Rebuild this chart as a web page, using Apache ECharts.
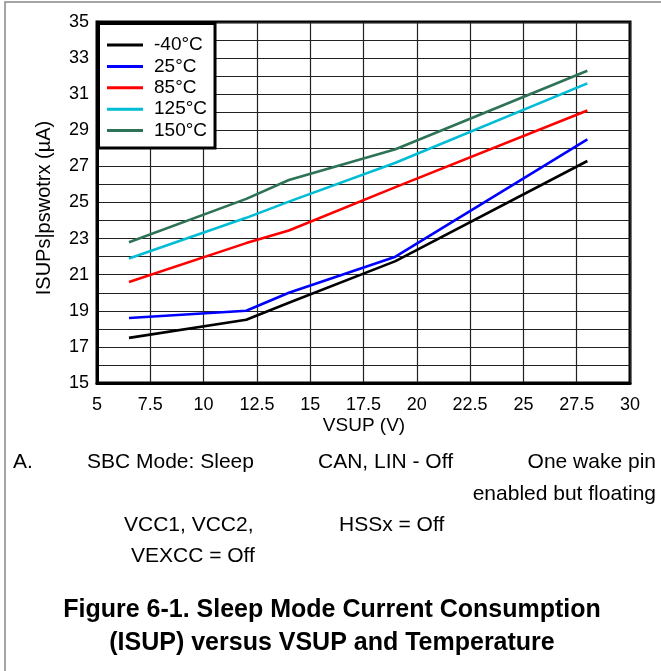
<!DOCTYPE html>
<html>
<head>
<meta charset="utf-8">
<script src="https://cdn.jsdelivr.net/npm/echarts@6/dist/echarts.min.js"></script>
<style>html,body{margin:0;padding:0;background:#fff}#c{width:661px;height:671px}</style>
</head>
<body>
<div id="c"></div>
<script>
var vsup = [6.5, 12, 14, 19, 28];
var seriesNames = ['-40\u00B0C', '25\u00B0C', '85\u00B0C', '125\u00B0C', '150\u00B0C'];
var isupM40 = [17.5, 18.5, 19.45, 21.75, 27.3];
var isup25 = [18.6, 19.0, 20.0, 22.0, 28.5];
var isup85 = [20.6, 22.75, 23.45, 25.85, 30.1];
var isup125 = [21.9, 24.15, 25.05, 27.2, 31.6];
var isup150 = [22.8, 25.2, 26.25, 27.95, 32.3];
var seriesColors = ['#000000', '#0000ff', '#ff0000', '#00bcd4', '#2e7356'];
var xTicks = [5, 7.5, 10, 12.5, 15, 17.5, 20, 22.5, 25, 27.5, 30];
var yTicks = [15, 17, 19, 21, 23, 25, 27, 29, 31, 33, 35];

var allData = [isupM40, isup25, isup85, isup125, isup150];
var font = 'Liberation Sans, Arial, sans-serif';

function pairs(arr) { return vsup.map(function (v, i) { return [v, arr[i]]; }); }

function note(text, x, y, align) {
  return { type: 'text', x: x, y: y, style: { text: text, font: '21px ' + font, fill: '#000', textAlign: align || 'left', textVerticalAlign: 'middle' } };
}

var chart = echarts.init(document.getElementById('c'), null, { renderer: 'canvas' });
chart.setOption({
  animation: false,
  backgroundColor: '#fff',
  grid: { left: 97, right: 31, top: 22, bottom: 288, show: true, borderColor: '#000', borderWidth: 3, containLabel: false },
  xAxis: {
    type: 'value', min: 5, max: 30, interval: 2.5,
    axisLine: { show: true, lineStyle: { color: '#000', width: 3 } },
    axisTick: { show: false },
    splitLine: { show: true, lineStyle: { color: '#222', width: 1.2 } },
    axisLabel: { color: '#000', fontSize: 18, fontFamily: font, margin: 13,
      formatter: function (v) { return xTicks.indexOf(v) >= 0 ? String(v) : ''; } }
  },
  yAxis: {
    type: 'value', min: 15, max: 35, interval: 1,
    axisLine: { show: true, lineStyle: { color: '#000', width: 3 } },
    axisTick: { show: false },
    splitLine: { show: true, lineStyle: { color: '#222', width: 1.2 } },
    axisLabel: { color: '#000', fontSize: 18, fontFamily: font, margin: 8,
      formatter: function (v) { return yTicks.indexOf(v) >= 0 ? String(v) : ''; } }
  },
  legend: {
    orient: 'vertical', left: 98.5, top: 23.5,
    data: seriesNames,
    icon: 'rect',
    backgroundColor: '#fff', borderColor: '#000', borderWidth: 3,
    padding: [12, 8, 8, 8.5],
    itemWidth: 36, itemHeight: 3, itemGap: 2.4,
    textStyle: { color: '#000', fontSize: 19, fontFamily: font, lineHeight: 19, padding: [0, 0, 0, 6] },
    z: 10
  },
  series: allData.map(function (d, i) {
    return {
      name: seriesNames[i], type: 'line', data: pairs(d),
      symbol: 'none', showSymbol: false,
      lineStyle: { color: seriesColors[i], width: 2.6 },
      itemStyle: { color: seriesColors[i] },
      z: 5
    };
  }),
  graphic: [
    { type: 'rect', shape: { x: 5, y: 2, width: 700, height: 700 }, style: { fill: 'none', stroke: '#888', lineWidth: 1.5 }, z: -1, silent: true },
    { type: 'text', x: 44, y: 208, rotation: Math.PI / 2, style: { text: 'ISUPs|pswotrx (\u00B5A)', font: '20px ' + font, fill: '#000', textAlign: 'center', textVerticalAlign: 'middle' } },
    { type: 'text', x: 364, y: 426, style: { text: 'VSUP (V)', font: '19px ' + font, fill: '#000', textAlign: 'center', textVerticalAlign: 'middle' } },
    note('A.', 13, 462),
    note('SBC Mode: Sleep', 87, 462),
    note('CAN, LIN - Off', 318, 462),
    note('One wake pin', 656, 462, 'right'),
    note('enabled but floating', 656, 494, 'right'),
    note('VCC1, VCC2,', 124, 525),
    note('HSSx = Off', 339, 525),
    note('VEXCC = Off', 131, 556),
    { type: 'text', x: 332, y: 610, style: { text: 'Figure 6-1. Sleep Mode Current Consumption', font: 'bold 25px ' + font, fill: '#000', textAlign: 'center', textVerticalAlign: 'middle' } },
    { type: 'text', x: 332, y: 643, style: { text: '(ISUP) versus VSUP and Temperature', font: 'bold 25px ' + font, fill: '#000', textAlign: 'center', textVerticalAlign: 'middle' } }
  ]
});
</script>
</body>
</html>
